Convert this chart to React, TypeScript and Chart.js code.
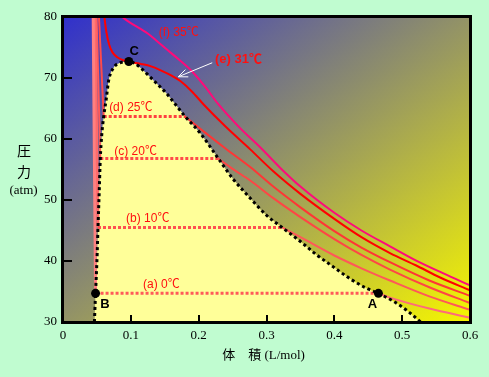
import React, { useEffect, useRef } from 'react';
import { Chart, registerables } from 'chart.js';

Chart.register(...registerables);

// ---- axis tick labels ----
const xTickLabels = ['0', '0.1', '0.2', '0.3', '0.4', '0.5', '0.6'];
const yTickLabels = ['30', '40', '50', '60', '70', '80'];

// ---- coexistence curve (volume L/mol, pressure atm) ----
const dome: number[][] = [
  [0.0463, 30], [0.048, 34.7], [0.050, 40], [0.0516, 45.5], [0.053, 50], [0.055, 56.8],
  [0.057, 60.5], [0.060, 63.7], [0.0638, 66.6], [0.0673, 69.6], [0.0746, 71.7], [0.0844, 72.5],
  [0.097, 72.7], [0.107, 72.3], [0.115, 71.6], [0.129, 70.1], [0.153, 67.4], [0.180, 63.7],
  [0.202, 61.0], [0.229, 56.8], [0.251, 53.4], [0.276, 50.3], [0.300, 47.5], [0.323, 45.5],
  [0.350, 43.2], [0.374, 41.0], [0.399, 39.0], [0.423, 37.1], [0.448, 35.5], [0.465, 34.7],
  [0.487, 33.4], [0.507, 31.9], [0.527, 30],
];

// ---- points A, B, C ----
const pointA = [0.465, 34.7];
const pointB = [0.048, 34.7];
const pointC = [0.097, 72.7];

// ---- isotherms: gas / supercritical branches ----
const iso35: number[][] = [
  [0.087, 80], [0.100, 79.0], [0.115, 78.0], [0.125, 77.3], [0.140, 75.9], [0.155, 74.5],
  [0.170, 73.1], [0.190, 71.1], [0.210, 68.5], [0.229, 65.7], [0.260, 61.9], [0.291, 58.6],
  [0.320, 55.3], [0.350, 52.2], [0.400, 47.9], [0.440, 45.0], [0.482, 42.4], [0.520, 40.1],
  [0.560, 38.0], [0.600, 36.0],
];
const iso31: number[][] = [
  [0.061, 80], [0.064, 77.5], [0.068, 75.5], [0.073, 74.2], [0.080, 73.4], [0.089, 72.9],
  [0.100, 72.6], [0.115, 72.3], [0.130, 71.9], [0.145, 71.2], [0.160, 70.4], [0.173, 69.5],
  [0.190, 67.8], [0.207, 65.7], [0.240, 62.0], [0.276, 58.3], [0.310, 54.7], [0.350, 51.0],
  [0.400, 46.9], [0.440, 43.9], [0.482, 41.3], [0.520, 39.3], [0.556, 37.3], [0.600, 35.2],
];
const iso25: number[][] = [
  [0.180, 63.7], [0.210, 61.0], [0.240, 58.4], [0.276, 55.4], [0.310, 52.2], [0.350, 48.8],
  [0.400, 44.9], [0.440, 42.2], [0.482, 39.8], [0.540, 36.8], [0.600, 34.3],
];
const iso20: number[][] = [
  [0.229, 56.8], [0.250, 55.1], [0.276, 53.2], [0.310, 50.3], [0.350, 47.2], [0.400, 43.6],
  [0.440, 41.0], [0.482, 38.6], [0.540, 35.7], [0.600, 33.1],
];
const iso10: number[][] = [
  [0.323, 45.5], [0.350, 43.9], [0.400, 40.9], [0.440, 38.8], [0.482, 36.8], [0.540, 34.2],
  [0.600, 32.0],
];
const iso0: number[][] = [[0.465, 34.7], [0.482, 34.0], [0.540, 32.2], [0.600, 30.7]];

// ---- isotherms: liquid branches ----
const liq0: number[][] = [[0.0445, 80], [0.048, 34.7]];
const liq10: number[][] = [[0.047, 80], [0.0516, 45.5]];
const liq20: number[][] = [[0.0495, 80], [0.055, 56.8]];
const liq25: number[][] = [[0.053, 80], [0.060, 63.7]];

// ---- isotherms: two-phase tie lines ----
const tie0: number[][] = [[0.048, 34.7], [0.465, 34.7]];
const tie10: number[][] = [[0.0516, 45.5], [0.323, 45.5]];
const tie20: number[][] = [[0.055, 56.8], [0.229, 56.8]];
const tie25: number[][] = [[0.060, 63.7], [0.180, 63.7]];

// ---- text ----
const isoLabels = ['(a) 0℃', '(b) 10℃', '(c) 20℃', '(d) 25℃', '(e) 31℃', '(f) 35℃'];
const pointLabels = ['A', 'B', 'C'];
const xTitle = '体　積 (L/mol)';
const yTitle = ['圧', '力', '(atm)'];

// label anchors (data coordinates) – layout only
const isoLabelPos = [
  [0.118, 36.1], [0.093, 47.0], [0.0756, 58.0], [0.068, 65.1], [0.224, 73.1], [0.141, 77.5],
];
const pointLabelPos = [[0.456, 32.9], [0.062, 32.9], [0.105, 74.4]];

const xy = (arr: number[][]) => arr.map(([x, y]) => ({ x, y }));

const lineDs = (data: number[][], color: string, width: number, extra: any = {}) => ({
  data: xy(data),
  borderColor: color,
  borderWidth: width,
  pointRadius: 0,
  fill: false,
  cubicInterpolationMode: 'monotone',
  order: 5,
  ...extra,
});

const decor = {
  id: 'decor',
  beforeDraw(chart: any) {
    const { ctx, chartArea } = chart;
    const { left, top, right, bottom } = chartArea;
    const w = right - left;
    const h = bottom - top;
    const s = (2 * w * h) / (w * w + h * h);
    ctx.save();
    const g = ctx.createLinearGradient(left, top, left + h * s, top + w * s);
    g.addColorStop(0, '#3030cc');
    g.addColorStop(1, '#f6f600');
    ctx.fillStyle = g;
    ctx.fillRect(left, top, w, h);
    ctx.restore();
  },
  afterDatasetsDraw(chart: any) {
    const { ctx, chartArea, scales } = chart;
    const xs = scales.x;
    const ys = scales.y;
    const { left, top, right, bottom } = chartArea;
    const px = (v: number) => xs.getPixelForValue(v);
    const py = (p: number) => ys.getPixelForValue(p);
    ctx.save();
    // isotherm labels
    ctx.textBaseline = 'middle';
    ctx.textAlign = 'left';
    isoLabels.forEach((s, i) => {
      const [v, p] = isoLabelPos[i];
      ctx.font = i === 4 ? 'bold 13px "Liberation Sans", "Noto Sans CJK JP"' : '12px "Liberation Sans", "Noto Sans CJK JP"';
      ctx.fillStyle = '#ff1010';
      ctx.fillText(s, px(v), py(p));
    });
    // point labels
    ctx.textAlign = 'center';
    ctx.font = 'bold 13px "Liberation Sans"';
    ctx.fillStyle = '#000';
    pointLabels.forEach((s, i) => {
      const [v, p] = pointLabelPos[i];
      ctx.fillText(s, px(v), py(p));
    });
    // white arrow toward (e) isotherm
    const x1 = px(0.220), y1 = py(72.5), x2 = px(0.170), y2 = py(70.2);
    ctx.strokeStyle = '#ffffff';
    ctx.lineWidth = 1;
    ctx.beginPath();
    ctx.moveTo(x1, y1);
    ctx.lineTo(x2, y2);
    const ang = Math.atan2(y2 - y1, x2 - x1);
    const hl = 10;
    ctx.moveTo(x2, y2);
    ctx.lineTo(x2 - hl * Math.cos(ang - 0.4), y2 - hl * Math.sin(ang - 0.4));
    ctx.moveTo(x2, y2);
    ctx.lineTo(x2 - hl * Math.cos(ang + 0.4), y2 - hl * Math.sin(ang + 0.4));
    ctx.stroke();
    // frame
    ctx.strokeStyle = '#000';
    ctx.lineWidth = 3;
    ctx.strokeRect(left - 0.5, top - 0.5, right - left + 1, bottom - top + 1);
    // inward ticks
    ctx.lineWidth = 2;
    ctx.beginPath();
    [0.1, 0.2, 0.3, 0.4, 0.5].forEach((v) => {
      const x = Math.round(px(v));
      ctx.moveTo(x, bottom);
      ctx.lineTo(x, bottom - 7);
    });
    [40, 50, 60, 70].forEach((p) => {
      const y = Math.round(py(p));
      ctx.moveTo(left, y);
      ctx.lineTo(left + 9, y);
    });
    ctx.stroke();
    // axis titles
    ctx.fillStyle = '#000';
    ctx.textAlign = 'center';
    ctx.textBaseline = 'middle';
    ctx.font = '13px "Liberation Serif", "Noto Sans CJK JP"';
    ctx.fillText(xTitle, (left + right) / 2 - 3, 356);
    ctx.font = '14px "Noto Sans CJK JP"';
    ctx.fillText(yTitle[0], 24, 151);
    ctx.fillText(yTitle[1], 24, 172);
    ctx.font = '13px "Liberation Serif"';
    ctx.fillText(yTitle[2], 23.5, 191);
    ctx.restore();
  },
};

export default function App() {
  const ref = useRef<HTMLCanvasElement>(null);
  useEffect(() => {
    if (!ref.current) return;
    const datasets: any[] = [
      // two-phase region fill
      {
        data: xy(dome),
        borderWidth: 0,
        borderColor: 'rgba(0,0,0,0)',
        backgroundColor: '#ffff99',
        pointRadius: 0,
        fill: 'start',
        cubicInterpolationMode: 'monotone',
        order: 20,
      },
      lineDs(iso35, '#ff0a7a', 2),
      lineDs(iso31, '#ff0000', 2),
      lineDs(iso25, '#ff3535', 2),
      lineDs(iso20, '#ff4545', 2),
      lineDs(iso10, '#ff5858', 2),
      lineDs(iso0, '#ff6a7a', 2),
      lineDs(liq0, '#ff8080', 3),
      lineDs(liq10, '#ff6a6a', 3),
      lineDs(liq20, '#ff5a5a', 2),
      lineDs(liq25, '#ff4a4a', 2),
      lineDs(tie0, '#ff5a5a', 3, { borderDash: [3, 2], order: 4, cubicInterpolationMode: 'default' }),
      lineDs(tie10, '#ff5050', 3, { borderDash: [3, 2], order: 4, cubicInterpolationMode: 'default' }),
      lineDs(tie20, '#ff4a4a', 3, { borderDash: [3, 2], order: 4, cubicInterpolationMode: 'default' }),
      lineDs(tie25, '#ff4040', 3, { borderDash: [3, 2], order: 4, cubicInterpolationMode: 'default' }),
      lineDs(dome, '#000000', 3, { borderDash: [3, 3], order: 2 }),
      {
        data: xy([pointA, pointB, pointC]),
        showLine: false,
        pointRadius: 4.5,
        pointBackgroundColor: '#000',
        pointBorderColor: '#000',
        pointBorderWidth: 0,
        order: 1,
      },
    ];
    const chart = new Chart(ref.current, {
      type: 'line',
      data: { datasets },
      options: {
        animation: false,
        responsive: false,
        devicePixelRatio: 1,
        events: [],
        layout: { padding: { left: 0, top: 17, right: 19, bottom: 0 } },
        plugins: { legend: { display: false }, tooltip: { enabled: false } },
        scales: {
          x: {
            type: 'linear',
            min: 0,
            max: 0.6,
            grid: { display: false, drawTicks: false },
            border: { display: false },
            ticks: {
              stepSize: 0.1,
              padding: 6,
              color: '#000',
              font: { family: '"Liberation Serif"', size: 13 },
              callback: (_v: any, i: number) => xTickLabels[i],
              maxRotation: 0,
            },
            afterFit: (s: any) => { s.height = 55; },
          },
          y: {
            type: 'linear',
            min: 30,
            max: 80,
            grid: { display: false, drawTicks: false },
            border: { display: false },
            ticks: {
              stepSize: 10,
              padding: 6,
              color: '#000',
              font: { family: '"Liberation Serif"', size: 13 },
              callback: (_v: any, i: number) => yTickLabels[i],
            },
            afterFit: (s: any) => { s.width = 63; },
          },
        },
      },
      plugins: [decor],
    } as any);
    return () => chart.destroy();
  }, []);
  return (
    <div style={{ position: 'fixed', left: 0, top: 0, width: 489, height: 377, background: '#c0fcd0' }}>
      <canvas ref={ref} width={489} height={377} style={{ display: 'block' }} />
    </div>
  );
}
